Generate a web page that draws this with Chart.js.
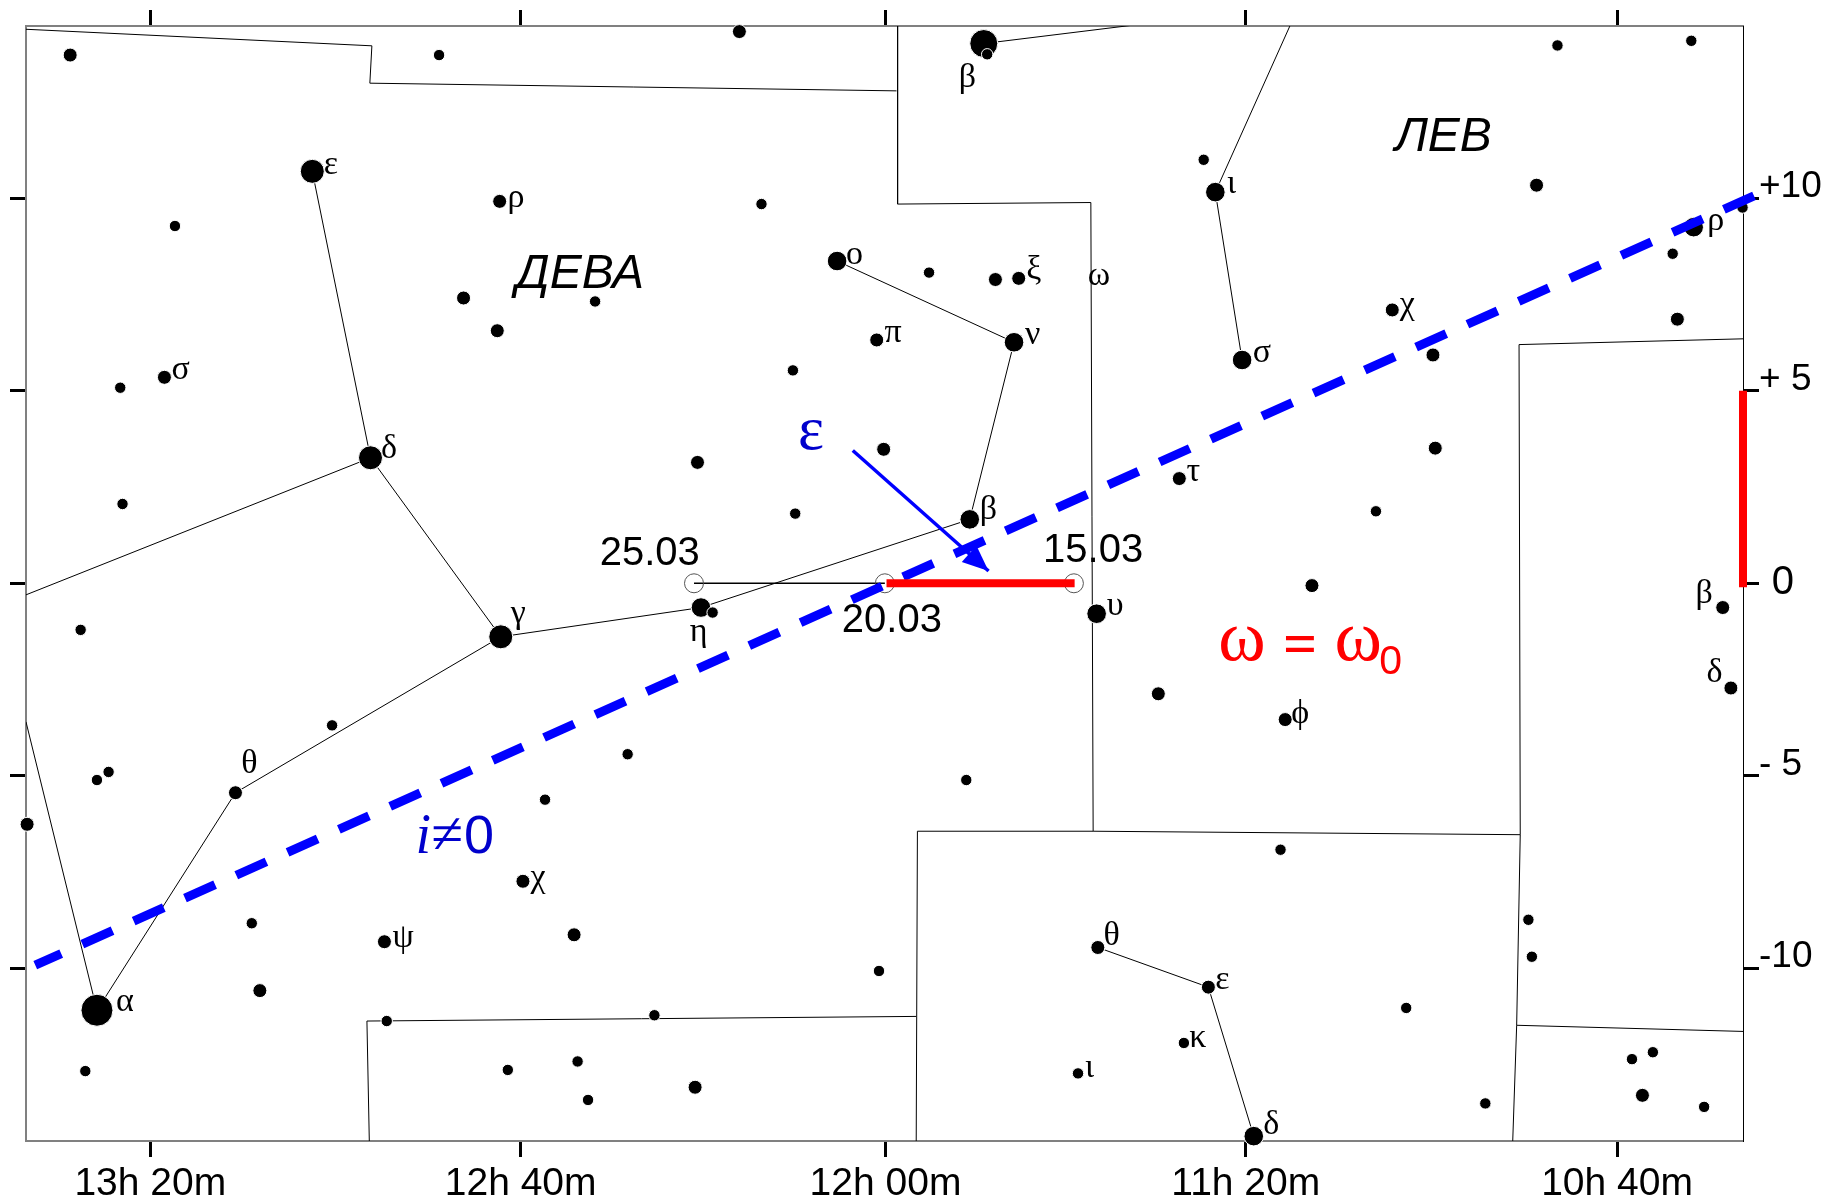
<!DOCTYPE html>
<html lang="ru">
<head>
    <meta charset="UTF-8">
    <title>Virgo and Leo star map</title>
    <script src="https://cdn.jsdelivr.net/npm/chart.js@4"></script>
    <style>
        html, body { margin: 0; padding: 0; background: #ffffff; }
        canvas { display: block; }
    </style>
</head>
<body>
    <canvas id="chart_canvas" width="1825" height="1199"></canvas>

    <script>
        // Axes: right ascension in minutes of time, declination in degrees
        var raTicks = [800, 759.6, 719.8, 680.5, 640];
        var raTickLabels = ['13h 20m', '12h 40m', '12h 00m', '11h 20m', '10h 40m'];
        var decTicks = [10, 5, 0, -5, -10];
        var decTickLabels = ['+10', '+ 5', '', '- 5', '-10'];

        // Stars, with a rough brightness class (1 = brightest)
        var starRa = [808.74, 768.50, 735.74, 709.08, 708.71, 646.50, 631.90, 685.09, 683.82, 648.78,
            782.33, 761.89, 797.31, 733.33, 631.64, 626.31, 633.93, 725.08, 715.05, 707.81,
            705.27, 765.83, 751.48, 664.52, 633.42, 762.15, 720.76, 705.78, 660.08, 680.90,
            729.90, 798.46, 803.28, 775.98, 720.00, 740.31, 659.83, 687.75, 803.03, 729.65,
            666.30, 710.61, 673.28, 739.93, 738.66, 696.77, 628.47, 807.60, 761.77, 627.58,
            690.04, 676.20, 780.17, 747.93, 804.55, 805.82, 710.99, 790.71, 756.94, 813.44,
            676.71, 759.35, 788.93, 649.67, 753.77, 649.29, 774.46, 720.51, 696.64, 684.58,
            788.05, 805.82, 663.00, 774.21, 745.01, 687.25, 807.09, 761.00, 753.39, 698.80,
            638.37, 636.09, 740.57, 752.25, 637.23, 654.37, 630.50, 679.63];
        var starDec = [13.72, 13.72, 14.33, 14.02, 13.74, 13.97, 14.09, 11.00, 10.16, 10.34,
            10.70, 9.92, 9.28, 9.85, 9.25, 9.76, 8.56, 8.37, 8.07, 7.89,
            7.92, 7.41, 7.32, 7.10, 6.86, 6.56, 6.32, 6.26, 5.93, 5.80,
            5.53, 5.35, 5.08, 3.26, 3.48, 3.14, 3.51, 2.72, 2.06, 1.81,
            1.87, 1.66, -0.06, -0.63, -0.76, -0.79, -0.63, -1.21, -1.39, -2.72,
            -2.87, -3.54, -3.69, -4.44, -4.90, -5.11, -5.11, -5.44, -5.62, -6.26,
            -6.92, -7.74, -8.83, -8.74, -9.13, -9.70, -9.31, -10.07, -9.46, -10.49,
            -10.58, -11.09, -11.03, -11.37, -11.22, -11.94, -12.67, -12.64, -12.42, -12.73,
            -12.36, -12.18, -13.09, -13.42, -13.30, -13.51, -13.60, -14.36];
        var starMag = [5, 6, 5, 2, 6, 6, 6, 6, 4, 5,
            3, 5, 6, 6, 4, 6, 6, 4, 6, 5,
            5, 5, 6, 5, 5, 5, 5, 4, 5, 4,
            6, 5, 6, 3, 5, 5, 5, 5, 6, 6,
            6, 4, 5, 4, 6, 4, 5, 6, 3, 5,
            5, 5, 6, 6, 6, 6, 6, 5, 6, 5,
            6, 5, 6, 6, 5, 6, 5, 6, 5, 5,
            5, 1, 6, 6, 6, 6, 6, 6, 6, 6,
            6, 6, 5, 6, 5, 6, 6, 4];

        // Constellation figures, null breaks a line
        var figureRa = [782.33, 775.98, 761.77, 739.93, 710.61, 705.78, 725.08, null,
            813.56, 775.98, null,
            761.77, 790.71, 805.82, 813.56, null,
            709.08, 692.03, null,
            675.69, 683.82, 680.90, null,
            696.64, 684.58, 679.63];
        var figureDec = [10.70, 3.26, -1.39, -0.63, 1.66, 6.26, 8.37, null,
            -0.30, 3.26, null,
            -1.39, -5.44, -11.09, -3.60, null,
            14.02, 14.52, null,
            14.475, 10.16, 5.80, null,
            -9.46, -10.49, -14.36];

        // Constellation boundaries
        var boundaryRa = [813.56, 775.83, 776.05, 718.60, null,
            718.48, 718.48, 697.40, 697.15, null,
            776.11, 776.37, 716.45, null,
            716.45, 716.32, 697.15, 650.56, null,
            626.26, 650.69, 650.56, 650.95, 651.38, null,
            650.95, 626.26];
        var boundaryDec = [14.39, 13.96, 12.99, 12.79, null,
            14.475, 9.85, 9.89, -6.44, null,
            -14.486, -11.37, -11.25, null,
            -14.486, -6.44, -6.44, -6.53, null,
            6.35, 6.20, -6.53, -11.48, -14.486, null,
            -11.48, -11.64];

        // Ecliptic, listed from its right end
        var eclipticRa = [625.06, 812.55];
        var eclipticDec = [10.06, -9.92];

        // Apparent motion of the planet
        var motionRa = [740.69, 719.87];
        var motionDec = [0, 0];
        var dateRa = [740.69, 719.87, 699.25];
        var dateDec = [0, 0, 0];

        // Red segments: along right ascension and along declination
        var redRa = [719.69, 699.17, null, 626.26, 626.26];
        var redDec = [0, 0, null, 5, -0.1];

        // Arrow marked epsilon
        var arrowRa = [723.37, 708.56];
        var arrowDec = [3.45, 0.32];

        // Text on the map
        var greekLetters = ['ε', 'ρ', 'σ', 'δ', 'γ', 'θ', 'α', 'χ', 'ψ', 'ο', 'ξ', 'ω', 'π', 'ν', 'β', 'η',
            'υ', 'τ', 'ι', 'σ', 'χ', 'ρ', 'ϕ', 'β', 'δ', 'β', 'θ', 'ε', 'κ', 'ι', 'δ'];
        var greekRa = [780.30, 760.12, 796.68, 773.95, 759.86, 789.19, 802.77, 757.70, 772.43, 723.17, 703.62,
            696.51, 718.98, 703.75, 708.57, 740.19, 694.74, 686.23, 682.04, 678.74, 662.87,
            629.23, 674.55, 630.50, 629.36, 710.86, 695.12, 683.06, 685.72, 697.53, 677.73];
        var greekDec = [10.85, 10.01, 5.53, 3.48, -0.79, -4.69, -10.88, -7.65, -9.22, 8.52, 8.13,
            7.98, 6.50, 6.44, 1.90, -1.27, -0.60, 2.90, 10.37, 5.99, 7.22,
            9.40, -3.39, -0.27, -2.33, 13.12, -9.16, -10.31, -11.82, -12.58, -14.06];

        var constellationNames = ['ДЕВА', 'ЛЕВ'];
        var constellationRa = [753.13, 658.94];
        var constellationDec = [8.01, 11.58];

        var dateLabels = ['25.03', '15.03', '20.03', '0'];
        var dateLabelRa = [745.52, 697.15, 719.11, 621.90];
        var dateLabelDec = [0.76, 0.85, -0.97, 0];

        var redSymbols = ['ω', 'ω'];
        var redSymbolRa = [680.93, 668.25];
        var redSymbolDec = [-1.51, -1.51];
        var redEquals = ['='];
        var redEqualsRa = [674.57];
        var redEqualsDec = [-1.67];
        var redSubscript = ['0'];
        var redSubscriptRa = [664.69];
        var redSubscriptDec = [-2.06];

        var epsilonLabel = ['ε'];
        var epsilonRa = [727.92];
        var epsilonDec = [3.90];

        var inclinationI = ['i'];
        var inclinationIRa = [770.22];
        var inclinationIDec = [-6.62];
        var inclinationNe = ['≠'];
        var inclinationNeRa = [767.58];
        var inclinationNeDec = [-6.62];
        var inclinationZero = ['0'];
        var inclinationZeroRa = [764.15];
        var inclinationZeroDec = [-6.62];

        var SERIF = '"Liberation Serif", serif';
        var SANS = '"Liberation Sans", Arial, sans-serif';
        var STAR_RADIUS = { 1: 15.5, 2: 13.5, 3: 11.5, 4: 9.3, 5: 6.5, 6: 5.2 };

        var textGroups = [
            { texts: greekLetters, ra: greekRa, dec: greekDec, font: '34px ' + SERIF, color: '#000000' },
            { texts: constellationNames, ra: constellationRa, dec: constellationDec, font: 'italic 48px ' + SANS, color: '#000000' },
            { texts: dateLabels, ra: dateLabelRa, dec: dateLabelDec, font: '40px ' + SANS, color: '#000000' },
            { texts: redSymbols, ra: redSymbolRa, dec: redSymbolDec, font: '72px ' + SERIF, color: '#ff0000' },
            { texts: redEquals, ra: redEqualsRa, dec: redEqualsDec, font: 'bold 60px ' + SERIF, color: '#ff0000' },
            { texts: redSubscript, ra: redSubscriptRa, dec: redSubscriptDec, font: '41px ' + SANS, color: '#ff0000' },
            { texts: epsilonLabel, ra: epsilonRa, dec: epsilonDec, font: '62px ' + SERIF, color: '#0000cc' },
            { texts: inclinationI, ra: inclinationIRa, dec: inclinationIDec, font: 'italic 56px ' + SERIF, color: '#0000cc' },
            { texts: inclinationNe, ra: inclinationNeRa, dec: inclinationNeDec, font: '58px ' + SERIF, color: '#0000cc' },
            { texts: inclinationZero, ra: inclinationZeroRa, dec: inclinationZeroDec, font: '54px ' + SANS, color: '#0000cc' }
        ];

        function to_points(ra, dec) {
            return ra.map(function (value, i) {
                return { x: value, y: dec[i] };
            });
        }

        // Text and the arrow head have no chart type of their own
        var map_text_plugin = {
            id: 'map_text',
            afterDatasetsDraw: function (chart) {
                var ctx = chart.ctx;
                var x = chart.scales.x;
                var y = chart.scales.y;

                var x0 = x.getPixelForValue(arrowRa[0]);
                var y0 = y.getPixelForValue(arrowDec[0]);
                var x1 = x.getPixelForValue(arrowRa[1]);
                var y1 = y.getPixelForValue(arrowDec[1]);
                var angle = Math.atan2(y1 - y0, x1 - x0);

                ctx.save();
                ctx.translate(x1, y1);
                ctx.rotate(angle);
                ctx.fillStyle = '#0000ff';
                ctx.beginPath();
                ctx.moveTo(0, 0);
                ctx.lineTo(-26, -11);
                ctx.lineTo(-26, 11);
                ctx.closePath();
                ctx.fill();
                ctx.restore();

                ctx.save();
                ctx.textAlign = 'center';
                ctx.textBaseline = 'middle';
                textGroups.forEach(function (group) {
                    ctx.font = group.font;
                    ctx.fillStyle = group.color;
                    group.texts.forEach(function (text, i) {
                        ctx.fillText(text, x.getPixelForValue(group.ra[i]), y.getPixelForValue(group.dec[i]));
                    });
                });
                ctx.restore();
            }
        };

        function ra_axis(position, border_color, show_labels) {
            return {
                type: 'linear',
                axis: 'x',
                position: position,
                reverse: true,
                min: 626.26,
                max: 813.56,
                afterBuildTicks: function (scale) {
                    scale.ticks = raTicks.map(function (value) { return { value: value }; });
                },
                afterFit: function (scale) {
                    scale.height = position === 'top' ? 26 : 58;
                },
                grid: { drawOnChartArea: false, drawTicks: true, tickLength: 16, tickWidth: 3, tickColor: '#000000' },
                border: { color: border_color, width: 2 },
                ticks: {
                    display: show_labels,
                    autoSkip: false,
                    maxRotation: 0,
                    padding: 4,
                    color: '#000000',
                    font: { family: SANS, size: 39 },
                    callback: function (value, index) { return raTickLabels[index]; }
                }
            };
        }

        function dec_axis(position, border_color, border_width, show_labels) {
            return {
                type: 'linear',
                axis: 'y',
                position: position,
                min: -14.486,
                max: 14.475,
                afterBuildTicks: function (scale) {
                    scale.ticks = decTicks.map(function (value) { return { value: value }; });
                },
                afterFit: function (scale) {
                    scale.width = position === 'left' ? 26 : 82;
                },
                grid: { drawOnChartArea: false, drawTicks: true, tickLength: 16, tickWidth: 3, tickColor: '#000000' },
                border: { color: border_color, width: border_width },
                ticks: {
                    display: show_labels,
                    autoSkip: false,
                    padding: 0,
                    labelOffset: -11,
                    color: '#000000',
                    font: { family: SANS, size: 37 },
                    callback: function (value, index) { return decTickLabels[index]; }
                }
            };
        }

        window._chart = new Chart(document.getElementById('chart_canvas'), {
            type: 'scatter',
            plugins: [map_text_plugin],
            data: {
                datasets: [
                    {
                        label: 'boundaries',
                        data: to_points(boundaryRa, boundaryDec),
                        showLine: true,
                        spanGaps: false,
                        borderColor: '#000000',
                        borderWidth: 1,
                        pointRadius: 0,
                        order: 6
                    },
                    {
                        label: 'figures',
                        data: to_points(figureRa, figureDec),
                        showLine: true,
                        spanGaps: false,
                        borderColor: '#000000',
                        borderWidth: 1,
                        pointRadius: 0,
                        order: 5
                    },
                    {
                        label: 'motion',
                        data: to_points(motionRa, motionDec),
                        showLine: true,
                        borderColor: '#000000',
                        borderWidth: 1.5,
                        pointRadius: 0,
                        order: 4
                    },
                    {
                        label: 'dates',
                        data: to_points(dateRa, dateDec),
                        showLine: false,
                        pointRadius: 9.5,
                        pointBorderColor: '#555555',
                        pointBorderWidth: 1,
                        pointBackgroundColor: 'rgba(255,255,255,0)',
                        order: 3
                    },
                    {
                        label: 'stars',
                        data: to_points(starRa, starDec),
                        showLine: false,
                        clip: false,
                        pointRadius: function (context) {
                            return STAR_RADIUS[starMag[context.dataIndex]] + 0.5;
                        },
                        pointBackgroundColor: '#000000',
                        pointBorderColor: '#ffffff',
                        pointBorderWidth: 1,
                        order: 2
                    },
                    {
                        label: 'ecliptic',
                        data: to_points(eclipticRa, eclipticDec),
                        showLine: true,
                        clip: false,
                        borderColor: '#0000ff',
                        borderWidth: 9,
                        borderDash: [33, 23.2],
                        pointRadius: 0,
                        order: 1
                    },
                    {
                        label: 'arrow',
                        data: to_points(arrowRa, arrowDec),
                        showLine: true,
                        borderColor: '#0000ff',
                        borderWidth: 3.5,
                        pointRadius: 0,
                        order: 1
                    },
                    {
                        label: 'red',
                        data: to_points(redRa, redDec),
                        showLine: true,
                        spanGaps: false,
                        clip: false,
                        borderColor: '#ff0000',
                        borderWidth: 8,
                        pointRadius: 0,
                        order: 0
                    }
                ]
            },
            options: {
                responsive: false,
                animation: false,
                devicePixelRatio: 1,
                layout: { padding: 0 },
                plugins: { legend: { display: false }, tooltip: { enabled: false } },
                scales: {
                    x: ra_axis('bottom', '#808080', true),
                    x2: ra_axis('top', '#808080', false),
                    y: dec_axis('left', '#808080', 2, false),
                    y2: dec_axis('right', '#000000', 1, true)
                }
            }
        });
    </script>
</body>
</html>
